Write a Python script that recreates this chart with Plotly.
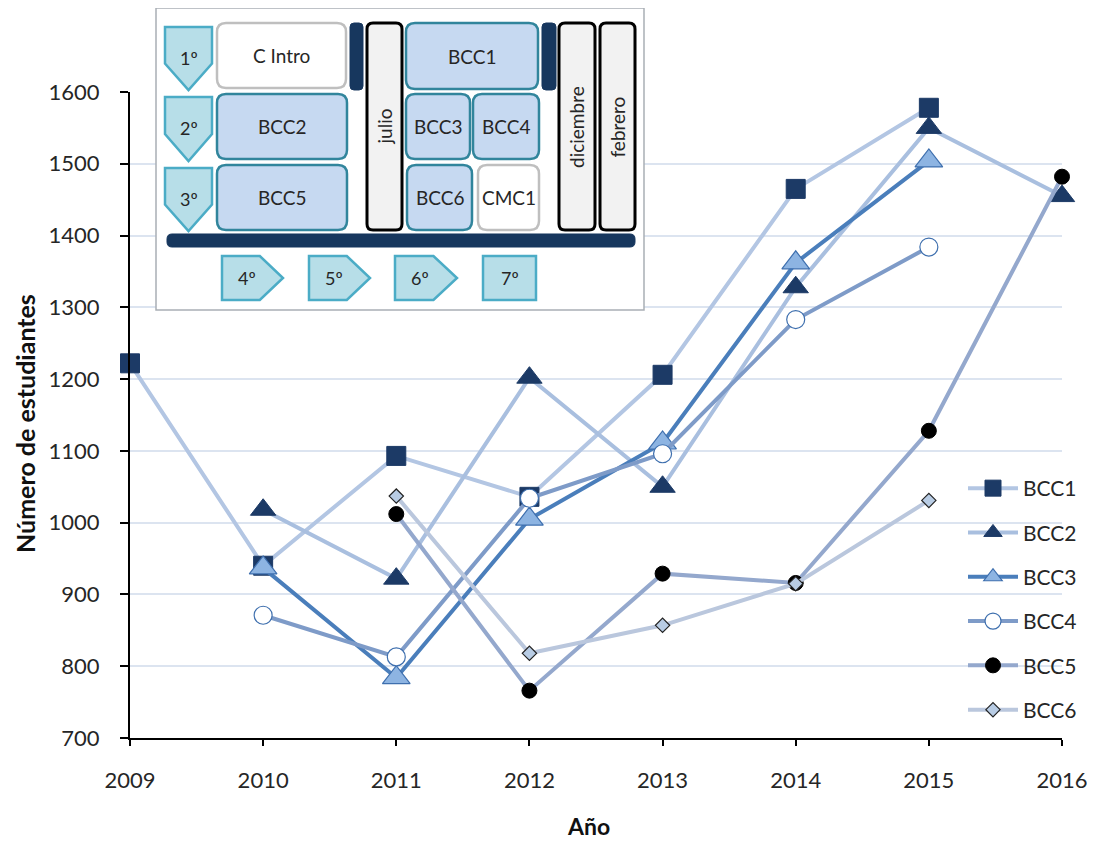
import plotly.graph_objects as go

years = [2009, 2010, 2011, 2012, 2013, 2014, 2015, 2016]

bcc1 = [1222, 940, 1093, 1036, 1206, 1465, 1578, None]
bcc2 = [None, 1018, 922, 1202, 1050, 1328, 1550, 1455]
bcc3 = [None, 937, 784, 1005, 1111, 1362, 1504, None]
bcc4 = [None, 871, 813, 1034, 1096, 1283, 1384, None]
bcc5 = [None, None, 1012, 766, 929, 916, 1128, 1482]
bcc6 = [None, None, 1037, 818, 857, 915, 1031, None]

series_names = ["BCC1", "BCC2", "BCC3", "BCC4", "BCC5", "BCC6"]
y_ticks = [700, 800, 900, 1000, 1100, 1200, 1300, 1400, 1500, 1600]

NAVY = "#1C3A66"
FONT = "Lato"

styles = [
    dict(line=dict(color="#B3C6E3", width=4), marker=dict(symbol="square", size=19, color=NAVY, line=dict(color=NAVY, width=1))),
    dict(line=dict(color="#A9BFDF", width=4), marker=dict(symbol="triangle-up", size=22, color=NAVY, line=dict(color=NAVY, width=1))),
    dict(line=dict(color="#4A7EBB", width=4), marker=dict(symbol="triangle-up", size=24, color="#8DB4E2", line=dict(color="#3E6FAE", width=1.2))),
    dict(line=dict(color="#7E9BC8", width=4), marker=dict(symbol="circle", size=18, color="white", line=dict(color="#3E6FAE", width=1.2))),
    dict(line=dict(color="#94A8CD", width=4), marker=dict(symbol="circle", size=15, color="black", line=dict(color="black", width=1))),
    dict(line=dict(color="#BAC7DD", width=4), marker=dict(symbol="diamond", size=11, color="#B8CCE4", line=dict(color="#222222", width=1.2))),
]

fig = go.Figure()
for name, vals, st in zip(series_names, [bcc1, bcc2, bcc3, bcc4, bcc5, bcc6], styles):
    fig.add_trace(go.Scatter(
        x=years, y=vals, name=name, mode="lines+markers",
        line=st["line"], marker=st["marker"], cliponaxis=False,
        legendgroup=name, connectgaps=False,
    ))

# screen position of the plot area (page has an 8px body margin)
OFF = 8
L, R, T, B = 130, 1062, 92, 738
W, H = 1095 - OFF, 842 - OFF


def px(x):
    return (x - L) / (R - L)


def py(y):
    return (B - y) / (B - T)


def poly_path(pts):
    return "M " + " L ".join(f"{px(x):.5f},{py(y):.5f}" for x, y in pts) + " Z"


def rrect_path(x0, y0, x1, y1, r):
    p = lambda x, y: f"{px(x):.5f},{py(y):.5f}"
    return (f"M {p(x0 + r, y0)} L {p(x1 - r, y0)} Q {p(x1, y0)} {p(x1, y0 + r)} "
            f"L {p(x1, y1 - r)} Q {p(x1, y1)} {p(x1 - r, y1)} "
            f"L {p(x0 + r, y1)} Q {p(x0, y1)} {p(x0, y1 - r)} "
            f"L {p(x0, y0 + r)} Q {p(x0, y0)} {p(x0 + r, y0)} Z")


shapes = []


def add_path(path, fill, line_color, lw):
    shapes.append(dict(type="path", path=path, xref="paper", yref="paper",
                       fillcolor=fill, line=dict(color=line_color, width=lw), layer="above"))


annotations = []


def add_text(x, y, text, size=19, angle=0, color="#262626"):
    annotations.append(dict(x=px(x), y=py(y), xref="paper", yref="paper", text=text,
                            showarrow=False, textangle=angle, xanchor="center", yanchor="middle",
                            font=dict(family=FONT, size=size, color=color)))


# outer box
add_path(poly_path([(156, 8), (644, 8), (644, 310), (156, 310)]), "white", "#A9AFB5", 1.5)

PENT_FILL, PENT_LINE = "#B7DEE8", "#4BACC6"
BOX_FILL, BOX_LINE = "#C6D9F1", "#31859C"

# down-pointing pentagons
for (y0, y1), lab in zip([(27, 90), (97, 161), (168, 231)], ["1º", "2º", "3º"]):
    ym = y0 + (y1 - y0) * 0.58
    add_path(poly_path([(165, y0), (212, y0), (212, ym), (188.5, y1), (165, ym)]), PENT_FILL, PENT_LINE, 2.5)
    add_text(188.5, y0 + 31, lab, 18)

# right-pointing pentagons
for (x0, x1), lab in zip([(222, 283), (309, 370), (395, 457)], ["4º", "5º", "6º"]):
    xm = x0 + (x1 - x0) * 0.62
    add_path(poly_path([(x0, 256), (xm, 256), (x1, 278), (xm, 300), (x0, 300)]), PENT_FILL, PENT_LINE, 2.5)
    add_text(x0 + 25, 278, lab, 18)
add_path(poly_path([(483, 256), (536, 256), (536, 300), (483, 300)]), PENT_FILL, PENT_LINE, 2.5)
add_text(509.5, 278, "7º", 18)

# course boxes
boxes = [
    (217, 23, 346, 88, "C Intro", "white", "#BFBFBF"),
    (217, 94, 347, 159, "BCC2", BOX_FILL, BOX_LINE),
    (217, 165, 347, 230, "BCC5", BOX_FILL, BOX_LINE),
    (406, 23, 538, 89, "BCC1", BOX_FILL, BOX_LINE),
    (406, 94, 470, 159, "BCC3", BOX_FILL, BOX_LINE),
    (473, 94, 539, 159, "BCC4", BOX_FILL, BOX_LINE),
    (407, 165, 472, 230, "BCC6", BOX_FILL, BOX_LINE),
    (478, 165, 539, 230, "CMC1", "white", "#BFBFBF"),
]
for x0, y0, x1, y1, lab, fill, lc in boxes:
    add_path(rrect_path(x0, y0, x1, y1, 9), fill, lc, 2.5)
    add_text((x0 + x1) / 2, (y0 + y1) / 2, lab, 19)

# month bars
for x0, x1, lab in [(367, 402, "julio"), (559, 595, "diciembre"), (600, 635, "febrero")]:
    add_path(rrect_path(x0, 23, x1, 230, 6), "#F2F2F2", "black", 3)
    add_text((x0 + x1) / 2, 127, lab, 19, -90)

# navy bars
add_path(rrect_path(350, 23, 363, 90, 4), "#17375E", "#17375E", 1)
add_path(rrect_path(542, 23, 556, 90, 4), "#17375E", "#17375E", 1)
add_path(rrect_path(167, 234, 635, 247, 5), "#17375E", "#17375E", 1)

# axis titles
add_text(588, 826, "<b>Año</b>", 23, 0, "#111111")
add_text(25, 424, "<b>Número de estudiantes</b>", 25, -90, "#111111")

fig.update_layout(
    width=W, height=H,
    margin=dict(l=L - OFF, r=W - (R - OFF), t=T - OFF, b=H - (B - OFF)),
    paper_bgcolor="white", plot_bgcolor="white",
    font=dict(family=FONT, size=21, color="#262626"),
    showlegend=True,
    legend=dict(x=px(963), y=py(468), xanchor="left", yanchor="top",
                font=dict(family=FONT, size=21, color="#262626"),
                itemwidth=50,
                traceorder="grouped", tracegroupgap=14, bgcolor="rgba(0,0,0,0)"),
    shapes=shapes,
    annotations=annotations,
)

fig.update_xaxes(
    range=[2009, 2016], tickmode="array", tickvals=years, ticktext=[str(y) for y in years],
    showgrid=False, zeroline=False, showline=True, linecolor="black", linewidth=2,
    ticks="outside", ticklen=6, tickwidth=1.5, tickcolor="black", ticklabelstandoff=16,
    tickfont=dict(family=FONT, size=22, color="#262626"), automargin=False,
)
fig.update_yaxes(
    range=[700, 1600], tickmode="array", tickvals=y_ticks,
    showgrid=True, gridcolor="#DCE4F0", gridwidth=1.5, zeroline=False,
    showline=True, linecolor="black", linewidth=2,
    ticks="outside", ticklen=8, tickwidth=1.5, tickcolor="black", ticklabelstandoff=16,
    tickfont=dict(family=FONT, size=22, color="#262626"), automargin=False,
)

fig.write_html("out.html")
